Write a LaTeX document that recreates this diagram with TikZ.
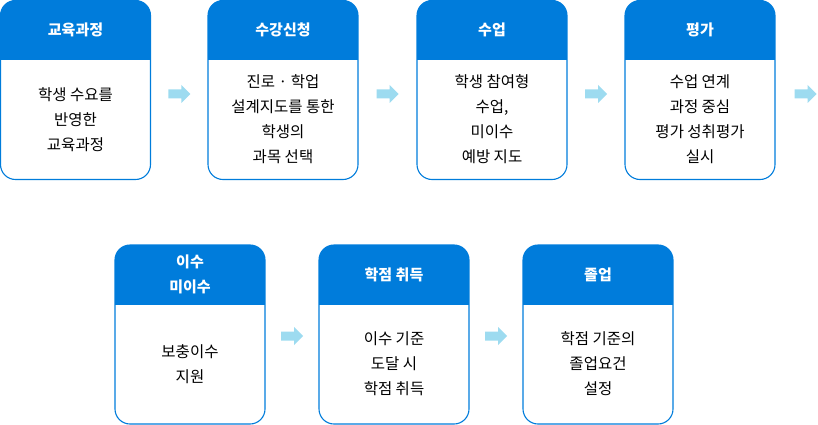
\documentclass[tikz,border=0pt]{standalone}
\usepackage{fontspec}
\setmainfont{Noto Sans CJK KR}
\usepackage{xcolor}
\usepackage{tikz}
\usetikzlibrary{positioning,%
  calc%
}
\definecolor{stepblue}{RGB}{0,124,219}
\definecolor{arrowblue}{RGB}{157,219,240}

\begin{document}
\begin{tikzpicture}[x=1pt,y=-1pt,
        card/.style={draw=stepblue, line width=1.1pt, rounded corners=15pt,
            minimum width=150pt, minimum height=179pt, inner sep=0pt,
            path picture={\fill[stepblue, sharp corners] (path picture bounding box.north west)
                rectangle ([yshift=-60pt]path picture bounding box.north east);}},
        head/.style={text=white, align=center, font=\fontsize{15pt}{25pt}\selectfont\bfseries},
        body/.style={text=black, align=center, font=\fontsize{15.5pt}{25pt}\selectfont},
        flow/.pic={\fill[arrowblue] (-11,-4.5) -- (2,-4.5) -- (2,-9) -- (11,0)
            -- (2,9) -- (2,4.5) -- (-11,4.5) -- cycle;}]
            \useasboundingbox (0,0) rectangle (818,425);

            % top row
            \node[card] (c1) at (75.5,90) {};
            \node[card] (c2) at (283,90) {};
            \node[card] (c3) at (492,90) {};
            \node[card] (c4) at (700,90) {};

            \node[head] (c1h) at ([yshift=-30pt]c1.north) {교육과정};
            \node[head] (c2h) at ([yshift=-30pt]c2.north) {수강신청};
            \node[head] (c3h) at ([yshift=-30pt]c3.north) {수업};
            \node[head] (c4h) at ([yshift=-30pt]c4.north) {평가};

            \node[body] (c1b) at ([yshift=-119.5pt]c1.north) {학생 수요를\\반영한\\교육과정};
            \node[body] (c2b) at ([yshift=-119.5pt]c2.north) {진로 · 학업\\설계지도를 통한\\학생의\\과목 선택};
            \node[body] (c3b) at ([yshift=-119.5pt]c3.north) {학생 참여형\\수업,\\미이수\\예방 지도};
            \node[body] (c4b) at ([yshift=-119.5pt]c4.north) {수업 연계\\과정 중심\\평가 성취평가\\실시};

            % bottom row
            \node[card] (d1) at (190,334.5) {};
            \node[card] (d2) at (394,334.5) {};
            \node[card] (d3) at (598,334.5) {};

            \node[head] (d1h) at ([yshift=-30pt]d1.north) {이수\\미이수};
            \node[head] (d2h) at ([yshift=-30pt]d2.north) {학점 취득};
            \node[head] (d3h) at ([yshift=-30pt]d3.north) {졸업};

            \node[body] (d1b) at ([yshift=-119.5pt]d1.north) {보충이수\\지원};
            \node[body] (d2b) at ([yshift=-119.5pt]d2.north) {이수 기준\\도달 시\\학점 취득};
            \node[body] (d3b) at ([yshift=-119.5pt]d3.north) {학점 기준의\\졸업요건\\설정};

            % arrows between the cards
            \coordinate (c4out) at ([xshift=30pt]c4.east);
            \pic at ($(c1.east)!.5!(c2.west)+(0,4)$) {flow};
            \pic at ($(c2.east)!.5!(c3.west)+(0,4)$) {flow};
            \pic at ($(c3.east)!.5!(c4.west)+(0,4)$) {flow};
            \pic at ($(c4out)+(0,4)$) {flow};
            \pic at ($(d1.east)!.5!(d2.west)+(0,1.5)$) {flow};
            \pic at ($(d2.east)!.5!(d3.west)+(0,1.5)$) {flow};
        \end{tikzpicture}
\end{document}
